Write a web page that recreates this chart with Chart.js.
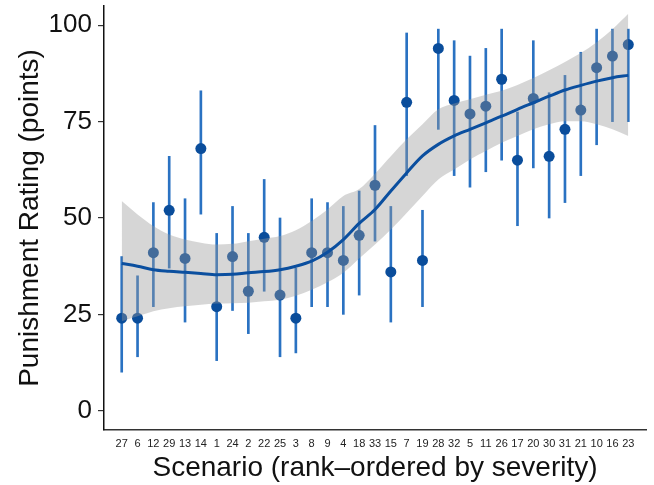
<!DOCTYPE html>
<html>
<head>
<meta charset="utf-8">
<script src="https://cdn.jsdelivr.net/npm/chart.js@4"></script>
<style>
  html, body { margin: 0; padding: 0; background: #fff; }
  #chart { display: block; }
</style>
</head>
<body>
<canvas id="chart" width="654" height="485"></canvas>
<script>
// scenarios, in rank order of severity
const scenarios = ['27', '6', '12', '29', '13', '14', '1', '24', '2', '22', '25', '3', '8', '9', '4', '18',
    '33', '15', '7', '19', '28', '32', '5', '11', '26', '17', '20', '30', '31', '21', '10', '16', '23'];

// mean punishment rating per scenario and its error bar
const means = [24, 24, 41, 52, 39.5, 68, 27, 40, 31, 45, 30, 24, 41, 41, 39, 45.5,
    58.5, 36, 80, 39, 94, 80.5, 77, 79, 86, 65, 81, 66, 73, 78, 89, 92, 95];
const errLow = [10, 14, 27, 37, 23, 51, 13, 26, 20, 31, 14, 15, 27, 27, 25, 30,
    44, 23, 61, 27, 73, 61, 58, 62, 65, 48, 63, 50, 54, 61, 69, 75, 75];
const errHigh = [40, 35, 54, 66, 55, 83, 46, 53, 46, 60, 50, 37, 55, 54, 53, 57,
    74, 53, 98, 52, 99, 96, 92, 94, 99, 77.5, 96, 82.5, 87, 93, 99, 99, 99];

// smoothed trend and its confidence band
const trend = [38.2, 37.5, 36.6, 36.2, 35.9, 35.6, 35.3, 35.4, 35.8, 36.1, 36.6, 37.5, 38.8, 41.1, 44.4, 48.6,
    52.2, 57, 61.7, 66.1, 69.1, 71.3, 73, 74.7, 76.4, 78.2, 79.9, 81.6, 83.2, 84.4, 85.5, 86.4, 87];
const bandHigh = [54.4, 50.9, 47.9, 45.7, 44.4, 43.6, 43.1, 43.3, 44, 44.6, 45.3, 46.8, 49.2, 52.2, 55.7, 57.5,
    61.5, 66, 70.4, 74.3, 78.2, 79.7, 80.8, 82, 83, 84.5, 86.3, 88.3, 90.5, 92.8, 95.6, 99, 103];
const bandLow = [23.2, 24.5, 25.8, 26.6, 27.1, 27.5, 27.8, 27.9, 28, 28.4, 28.8, 29.8, 31.4, 33.3, 35.8, 39.5,
    43.1, 47, 51.3, 55.7, 60, 62.6, 65.2, 67.4, 69.5, 71.3, 73, 74.3, 75.1, 75.1, 74.3, 73, 71.3];

const yTicks = [0, 25, 50, 75, 100];

const xy = arr => arr.map((v, i) => ({x: i, y: v}));

const ctx = document.getElementById('chart').getContext('2d');
Chart.defaults.font.family = '"Liberation Sans", Arial, Helvetica, sans-serif';
Chart.defaults.color = '#1a1a1a';

new Chart(ctx, {
    type: 'line',
    data: {
        datasets: [
            {
                // smooth line, on top
                label: 'trend',
                data: xy(trend),
                borderColor: '#0b4f9f',
                borderWidth: 3,
                pointRadius: 0,
                cubicInterpolationMode: 'monotone',
                fill: false,
                order: 0
            },
            {
                label: 'band high',
                data: xy(bandHigh),
                borderWidth: 0,
                borderColor: 'rgba(0,0,0,0)',
                backgroundColor: 'rgba(153,153,153,0.4)',
                pointRadius: 0,
                cubicInterpolationMode: 'monotone',
                fill: 2,
                order: 1
            },
            {
                label: 'band low',
                data: xy(bandLow),
                borderWidth: 0,
                borderColor: 'rgba(0,0,0,0)',
                pointRadius: 0,
                cubicInterpolationMode: 'monotone',
                fill: false,
                order: 2
            },
            {
                label: 'means',
                data: xy(means),
                showLine: false,
                pointRadius: 5.5,
                pointBackgroundColor: '#0a4d9b',
                pointBorderWidth: 0,
                order: 3
            },
            {
                type: 'bar',
                label: 'error',
                data: errLow.map((lo, i) => ({x: i, y: [lo, errHigh[i]]})),
                backgroundColor: '#2a72c2',
                barThickness: 2,
                order: 4
            }
        ]
    },
    options: {
        responsive: false,
        animation: false,
        events: [],
        layout: {padding: {top: 6, right: 8, left: 0, bottom: 0}},
        plugins: {
            legend: {display: false},
            tooltip: {enabled: false}
        },
        scales: {
            x: {
                type: 'linear',
                min: -0.6,
                max: 32.6,
                afterBuildTicks: axis => {
                    axis.ticks = scenarios.map((s, i) => ({value: i}));
                },
                afterFit: scale => {
                    scale.height = 55;
                    scale.paddingLeft = 0;
                    scale.paddingRight = 0;
                },
                grid: {display: false, drawTicks: false},
                border: {display: true, color: '#333', width: 1.5},
                ticks: {
                    autoSkip: false,
                    maxRotation: 0,
                    padding: 7,
                    font: {size: 11},
                    color: '#222',
                    callback: v => scenarios[v]
                },
                title: {
                    display: true,
                    text: 'Scenario (rank\u2013ordered by severity)',
                    font: {size: 28},
                    color: '#111',
                    padding: {top: 0, bottom: 0}
                }
            },
            y: {
                min: -5,
                max: 105,
                afterBuildTicks: axis => {
                    axis.ticks = yTicks.map(v => ({value: v}));
                },
                afterFit: scale => {
                    scale.width = 104;
                    scale.paddingTop = 0;
                    scale.paddingBottom = 0;
                },
                grid: {drawOnChartArea: false, drawTicks: true, tickLength: 6, color: '#333', lineWidth: 1.2},
                border: {display: true, color: '#111', width: 1.5},
                ticks: {
                    padding: 6,
                    font: {size: 26},
                    color: '#111'
                },
                title: {
                    display: true,
                    text: 'Punishment Rating (points)',
                    font: {size: 28},
                    color: '#111',
                    padding: {top: 13, bottom: 0}
                }
            }
        }
    }
});
</script>
</body>
</html>
